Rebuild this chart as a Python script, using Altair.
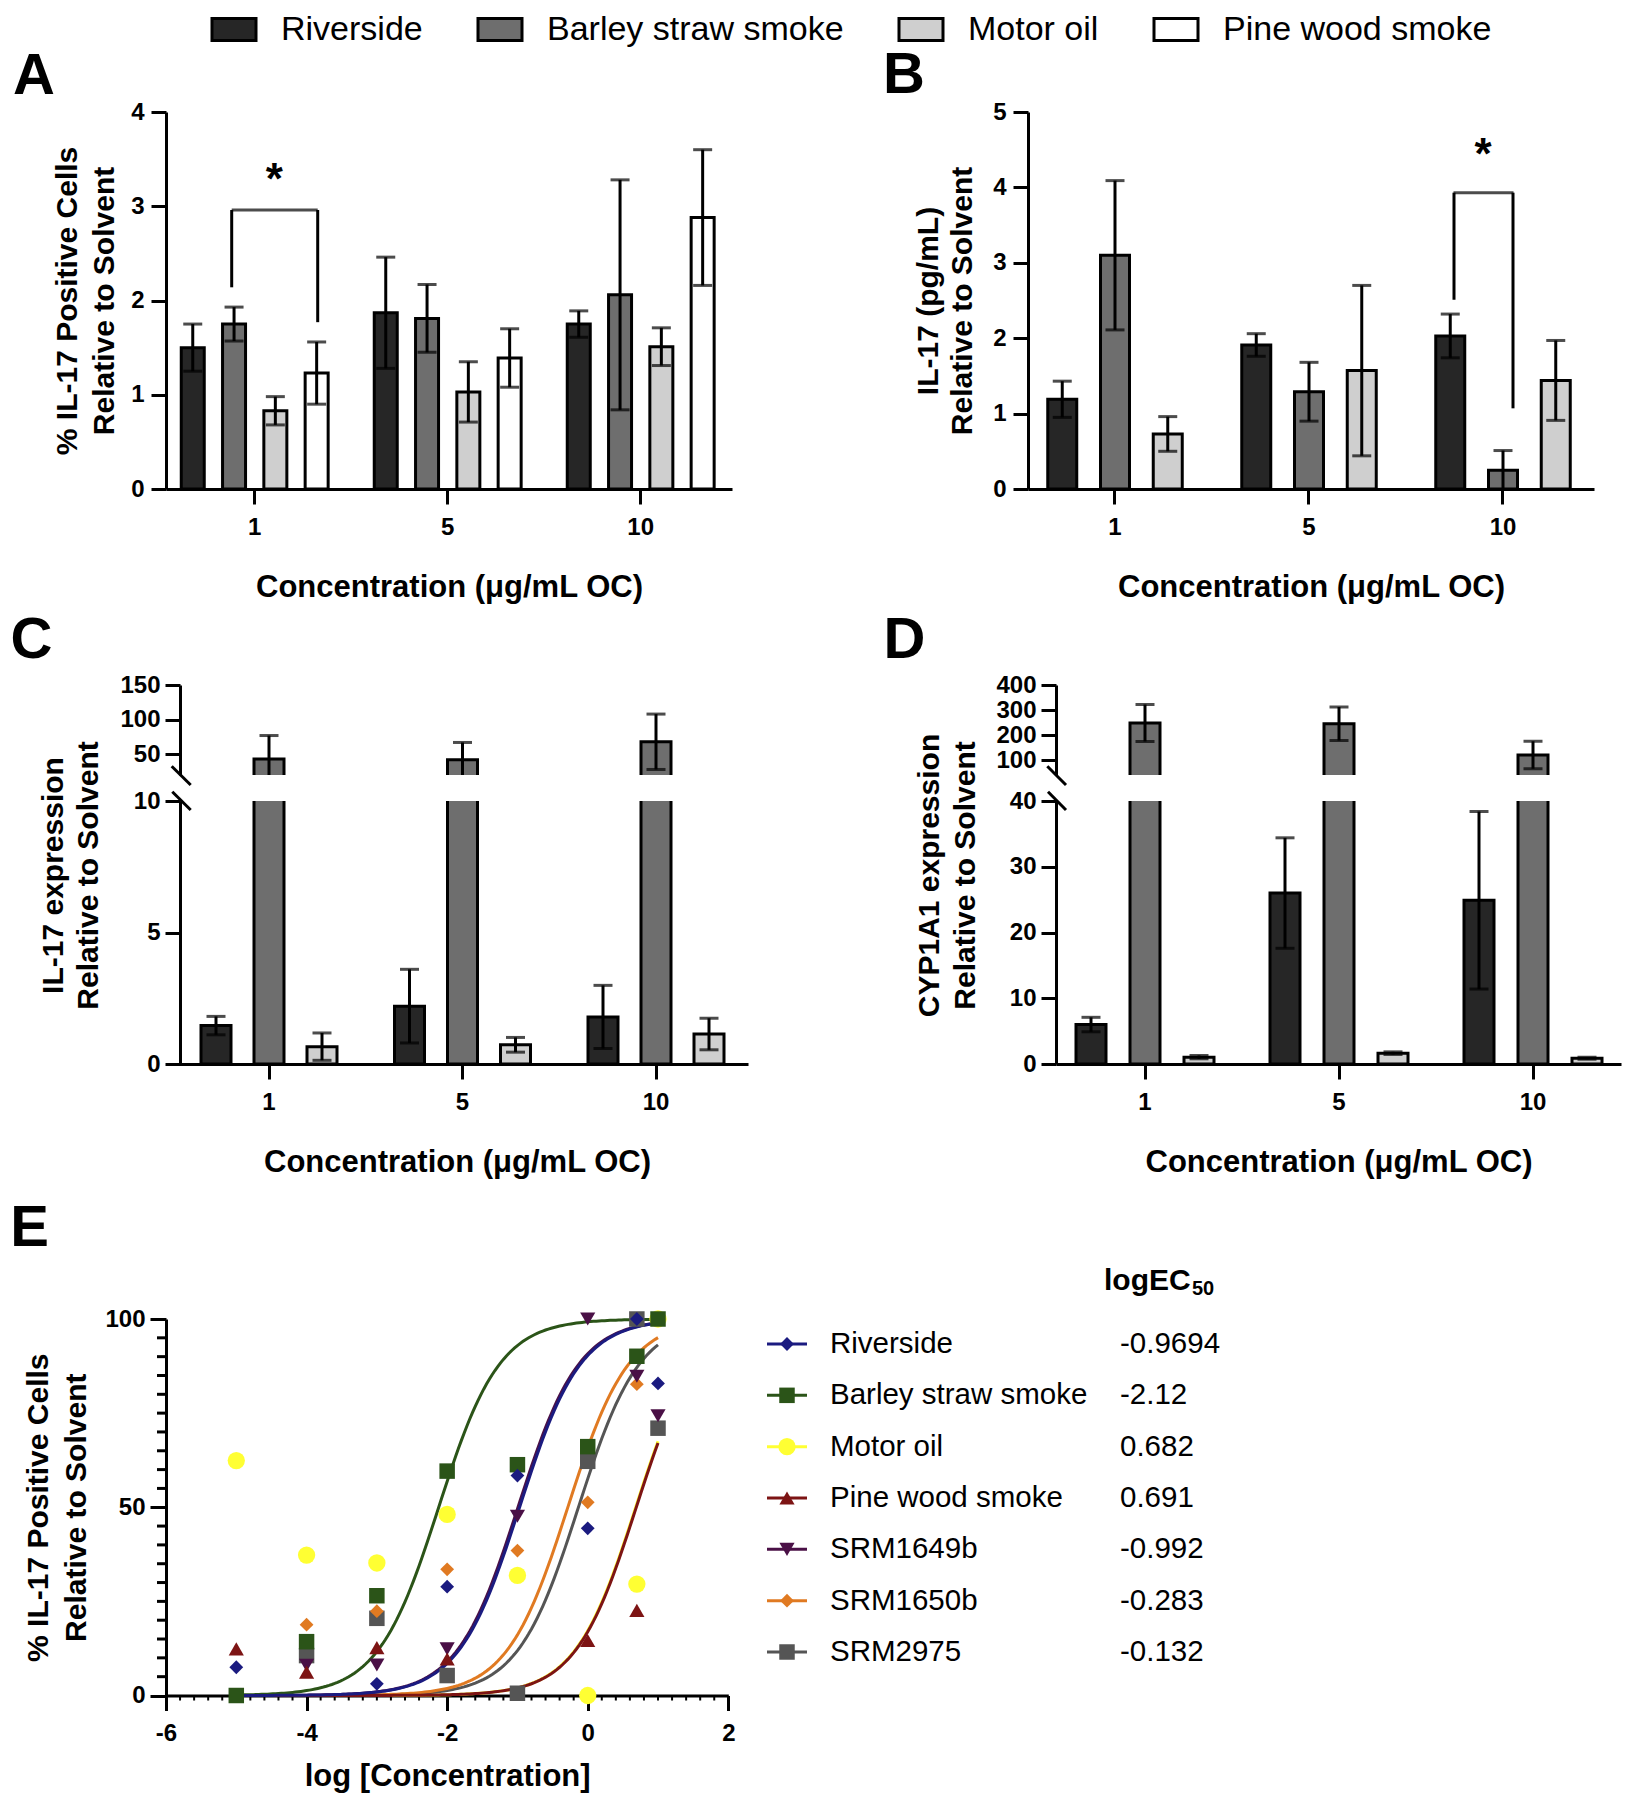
import altair as alt
import pandas as pd

FONT = "Liberation Sans"

# ---------------- data ----------------
conc = ["1", "5", "10"]
samples = ["Riverside", "Barley straw smoke", "Motor oil", "Pine wood smoke"]
bar_colors = ["#262626", "#6e6e6e", "#cfcfcf", "#ffffff"]

# Panel A: % IL-17 positive cells relative to solvent (mean, error)
a_mean = {"Riverside": [1.50, 1.87, 1.75], "Barley straw smoke": [1.75, 1.81, 2.06],
          "Motor oil": [0.83, 1.03, 1.51], "Pine wood smoke": [1.23, 1.39, 2.88]}
a_err = {"Riverside": [0.25, 0.59, 0.14], "Barley straw smoke": [0.18, 0.36, 1.22],
         "Motor oil": [0.15, 0.32, 0.20], "Pine wood smoke": [0.33, 0.31, 0.72]}
a_bracket = {"conc": "1", "top": 2.96, "lb": 2.14, "rb": 1.77, "star": 3.39}

# Panel B: IL-17 (pg/mL) relative to solvent
b_mean = {"Riverside": [1.19, 1.91, 2.03], "Barley straw smoke": [3.10, 1.29, 0.25],
          "Motor oil": [0.73, 1.57, 1.44]}
b_err = {"Riverside": [0.24, 0.15, 0.29], "Barley straw smoke": [0.99, 0.39, 0.26],
         "Motor oil": [0.23, 1.13, 0.53]}
b_bracket = {"conc": "10", "top": 3.93, "lb": 2.51, "rb": 1.07, "star": 4.58}

# Panel C: IL-17 expression relative to solvent
c_mean = {"Riverside": [1.46, 2.20, 1.79], "Barley straw smoke": [43.0, 42.0, 68.0],
          "Motor oil": [0.66, 0.73, 1.14]}
c_err = {"Riverside": [0.35, 1.40, 1.20], "Barley straw smoke": [34.0, 25.0, 40.0],
         "Motor oil": [0.52, 0.28, 0.60]}

# Panel D: CYP1A1 expression relative to solvent
d_mean = {"Riverside": [6.0, 26.0, 24.9], "Barley straw smoke": [248.0, 245.0, 120.0],
          "Motor oil": [1.04, 1.65, 0.88]}
d_err = {"Riverside": [1.1, 8.4, 13.5], "Barley straw smoke": [74.0, 67.0, 55.0],
         "Motor oil": [0.25, 0.20, 0.15]}

# Panel E: dose response
e_series = ["Riverside", "Barley straw smoke", "Motor oil", "Pine wood smoke",
            "SRM1649b", "SRM1650b", "SRM2975"]
e_colors = ["#1b1b80", "#2b5418", "#ffff33", "#7d1414", "#4a1046", "#e07a22", "#555555"]
e_shapes = ["diamond", "square", "circle", "triangle-up", "triangle-down", "diamond", "square"]
e_sizes = [190, 240, 300, 230, 230, 190, 240]
log_ec50 = [-0.9694, -2.12, 0.682, 0.691, -0.992, -0.283, -0.132]
log_conc = [-5, -4, -3, -2, -1, 0, 0.699, 1]
e_resp = {
    "Riverside":          [7.5, None, 3.1, 28.9, 58.4, 44.4, 100.0, 82.9],
    "Barley straw smoke": [0.0, 14.3, 26.5, 59.6, 61.3, 66.1, 90.1, 100.0],
    "Motor oil":          [62.4, 37.3, 35.2, 48.1, 31.9, 0.0, 29.6, 100.0],
    "Pine wood smoke":    [12.4, 6.2, 12.7, 9.7, None, 14.6, 22.6, None],
    "SRM1649b":           [None, 8.0, 8.1, 12.4, 47.6, 100.0, 84.8, 74.3],
    "SRM1650b":           [None, 18.8, 22.4, 33.5, 38.5, 51.3, 82.7, None],
    "SRM2975":            [None, 10.6, 20.5, 5.3, 0.6, 62.2, 100.0, 71.0],
}
# drawing order of the fitted curves (first drawn = bottom)
curve_order = ["Motor oil", "SRM2975", "SRM1650b", "SRM1649b", "Pine wood smoke",
               "Barley straw smoke", "Riverside"]
e_header = ["logEC", "50"]

# ---------------- layout / style constants ----------------
GEOM = {
    "A": dict(W=566, c1=88.7, step=193.0, sub_step=41.3, rect=23.0),
    "B": dict(W=566, c1=87.0, step=194.0, sub_step=52.75, rect=29.0),
    "C": dict(W=582, c1=103.0, step=193.5, sub_step=53.0, rect=30.0),
    "D": dict(W=565, c1=89.0, step=194.0, sub_step=54.0, rect=30.0),
}
XTITLE = "Concentration (\u03bcg/mL OC)"


def records(mean, err):
    rows = []
    for s, vals in mean.items():
        for i, c in enumerate(conc):
            rows.append({"conc": c, "sample": s, "mean": vals[i], "err": err[s][i]})
    return pd.DataFrame(rows)


def band_scales(g, subs):
    n = len(subs)
    pi2 = 1 - g["rect"] / g["sub_step"]
    bw = g["sub_step"] * (n - pi2)
    pi = 1 - bw / g["step"]
    po = (g["W"] / g["step"] - 3 + pi) / 2
    align = (g["c1"] - bw / 2) / (g["W"] - g["step"] * (3 - pi))
    xs = alt.Scale(domain=conc, paddingInner=pi, paddingOuter=po, align=align, round=False)
    xo = alt.Scale(domain=subs, paddingInner=pi2, paddingOuter=0, round=False)
    return xs, xo


top_legend = alt.Legend(
    orient="none", legendX=51, legendY=-99.5, direction="horizontal", columns=4,
    symbolType="M-2,-1H2V1H-2Z", symbolSize=484, symbolStrokeColor="black",
    symbolStrokeWidth=3, symbolOpacity=1, labelFontSize=34, labelFont=FONT,
    labelColor="black", labelOffset=30, columnPadding=49, padding=0, labelLimit=600,
)


def bar_chart(df, subs, g, ydom, yvals, height, yaxis, xaxis, title=None,
              legend=None, err_filter=None, bracket=None, bpx=None, slashes=None):
    xs, xo = band_scales(g, subs)
    X = alt.X("conc:N", scale=xs, axis=xaxis, sort=conc)
    XO = alt.XOffset("sample:N", scale=xo, sort=subs)
    ysc = alt.Scale(domain=ydom, nice=False, zero=False)
    color = alt.Color("sample:N", scale=alt.Scale(domain=samples, range=bar_colors),
                      legend=legend, title=None)
    base = alt.Chart(df)
    bars = base.mark_bar(stroke="black", strokeWidth=3, clip=True).encode(
        x=X, xOffset=XO, y=alt.Y("mean:Q", scale=ysc, axis=yaxis), y2=alt.datum(0), color=color)
    eb = base
    if err_filter:
        eb = eb.transform_filter(err_filter)
    eb = eb.transform_calculate(lo="datum.mean - datum.err", hi="datum.mean + datum.err")
    rule = eb.mark_rule(color="black", strokeWidth=3, clip=True).encode(
        x=X, xOffset=XO, y=alt.Y("lo:Q", scale=ysc, axis=yaxis), y2="hi:Q")
    caps = [eb.mark_tick(color="black", size=19, thickness=3, clip=True).encode(
        x=X, xOffset=XO, y=alt.Y(f, scale=ysc, axis=yaxis)) for f in ("lo:Q", "hi:Q")]
    layers = [bars, rule] + caps
    if bracket is not None:
        bd = alt.Chart(pd.DataFrame([bracket]))
        layers += [
            bd.mark_rule(color="black", strokeWidth=3, xOffset=bpx["left"]).encode(
                x=X, y=alt.Y("lb:Q", scale=ysc, axis=yaxis), y2="top:Q"),
            bd.mark_rule(color="black", strokeWidth=3, xOffset=bpx["right"]).encode(
                x=X, y=alt.Y("rb:Q", scale=ysc, axis=yaxis), y2="top:Q"),
            bd.mark_tick(color="black", size=bpx["len"], thickness=3, xOffset=bpx["mid"]).encode(
                x=X, y=alt.Y("top:Q", scale=ysc, axis=yaxis)),
            bd.mark_text(text="*", font=FONT, fontSize=44, fontWeight="bold", color="black",
                         align="center", baseline="alphabetic", dx=bpx["star"], dy=25).encode(
                x=X, y=alt.Y("star:Q", scale=ysc, axis=yaxis)),
        ]
    if slashes is not None:
        sd = alt.Chart(pd.DataFrame([{"k": 1}]))
        layers.append(sd.mark_rule(color="black", strokeWidth=3).encode(
            x=alt.value(slashes[0]), x2=alt.value(slashes[1]),
            y=alt.value(slashes[2]), y2=alt.value(slashes[3])))
    ch = alt.layer(*layers).properties(width=g["W"], height=height)
    if title is not None:
        ch = ch.properties(title=title)
    return ch


def letter(t, dx, offset):
    return alt.TitleParams(text=t, anchor="start", frame="group", dx=dx, offset=offset,
                           fontSize=58, fontWeight="bold", font=FONT, color="black")


def yaxis(vals, title=None, pad=7, tpad=12, lh=36, offset=0, min_ext=None, title_y=None, tick=15):
    kw = dict(values=vals, tickSize=tick, labelPadding=pad, offset=offset, titleLimit=1000)
    if title is not None:
        kw.update(title=title, titlePadding=tpad, titleLineHeight=lh)
    else:
        kw.update(title="")
    if min_ext is not None:
        kw.update(minExtent=min_ext, maxExtent=min_ext)
    if title_y is not None:
        kw.update(titleY=title_y)
    return alt.Axis(**kw)


xaxis_bars = alt.Axis(title=XTITLE, tickSize=15, labelPadding=11, titlePadding=33, labelAngle=0)
sub3 = samples[:3]

# ---- Panel A ----
A = bar_chart(records(a_mean, a_err), samples, GEOM["A"], [0, 4], [0, 1, 2, 3, 4], 377,
              yaxis([0, 1, 2, 3, 4], ["% IL-17 Positive Cells", "Relative to Solvent"], pad=7, tpad=11.5, lh=37),
              xaxis_bars, title=letter("A", -153, -5.7), legend=top_legend,
              bracket=a_bracket, bpx={"left": -23, "right": 63, "mid": 20, "len": 86, "star": 19.5})
# ---- Panel B ----
B = bar_chart(records(b_mean, b_err), sub3, GEOM["B"], [0, 5], [0, 1, 2, 3, 4, 5], 377,
              yaxis([0, 1, 2, 3, 4, 5], ["IL-17 (pg/mL)", "Relative to Solvent"], pad=7, tpad=15, lh=34),
              xaxis_bars, title=letter("B", -145, -5.2), legend=top_legend,
              bracket=b_bracket, bpx={"left": -49, "right": 10, "mid": -19.5, "len": 60, "star": -20})

# ---- Panel C (broken axis) ----
C_up = bar_chart(records(c_mean, c_err), sub3, GEOM["C"], [20, 150], [50, 100, 150], 90,
                 yaxis([50, 100, 150], None, pad=5, offset=-14), None,
                 title=letter("C", -155.6, 2.8), err_filter="datum.mean >= 10",
                 slashes=[5.7, 24.7, 81.3, 100])
C_low = bar_chart(records(c_mean, c_err), sub3, GEOM["C"], [0, 10], [0, 5, 10], 263,
                  yaxis([0, 5, 10], ["IL-17 expression", "Relative to Solvent"], pad=5, tpad=17, lh=35,
                        offset=-14, min_ext=60, title_y=74), xaxis_bars,
                  err_filter="datum.mean < 10", slashes=[6.3, 24.7, -9.3, 9])
# ---- Panel D (broken axis) ----
D_up = bar_chart(records(d_mean, d_err), sub3, GEOM["D"], [40, 400], [100, 200, 300, 400], 90,
                 yaxis([100, 200, 300, 400], None, pad=5), None,
                 title=letter("D", -172.6, 2.8), err_filter="datum.mean >= 40",
                 slashes=[-8.7, 10, 81.3, 100])
D_low = bar_chart(records(d_mean, d_err), sub3, GEOM["D"], [0, 40], [0, 10, 20, 30, 40], 263,
                  yaxis([0, 10, 20, 30, 40], ["CYP1A1 expression", "Relative to Solvent"], pad=5, tpad=16,
                        lh=36, min_ext=60, title_y=74), xaxis_bars,
                  err_filter="datum.mean < 40", slashes=[-8, 10, -9.3, 9])

# ---- Panel E ----
E_W, E_H = 562.3, 376.5
ex_sc = alt.Scale(domain=[-6, 2], nice=False, zero=False)
ey_sc = alt.Scale(domain=[0, 100], nice=False, zero=False)
ex_ax = alt.Axis(values=[-6, -4, -2, 0, 2], title="log [Concentration]", labelExpr="datum.value + ''",
                 tickSize=15, labelPadding=11, titlePadding=16)
ey_ax = alt.Axis(values=[0, 50, 100], title=["% IL-17 Positive Cells", "Relative to Solvent"],
                 tickSize=16, labelPadding=5, titlePadding=13, titleLineHeight=38, titleLimit=1000)
e_color = alt.Color("series:N", scale=alt.Scale(domain=e_series, range=e_colors), legend=None)
e_shape = alt.Shape("series:N", scale=alt.Scale(domain=e_series, range=e_shapes), legend=None)
e_size = alt.Size("series:N", scale=alt.Scale(type="ordinal", domain=e_series, range=e_sizes),
                  legend=None)

pts = []
for s in reversed(e_series):
    for i, xv in enumerate(log_conc):
        v = e_resp[s][i]
        if v is not None:
            pts.append({"series": s, "x": xv, "y": v})
pts_df = pd.DataFrame(pts)
curve_df = pd.DataFrame({"series": curve_order,
                         "ec50": [log_ec50[e_series.index(s)] for s in curve_order]})

e_minor_y = [v for v in range(5, 100, 5) if v % 50]
e_minor_x = [round(-6 + 0.2 * i, 1) for i in range(1, 40) if i % 10]

minor_y = alt.Chart(pd.DataFrame({"v": e_minor_y})).mark_rule(color="black", strokeWidth=3).encode(
    y=alt.Y("v:Q", scale=ey_sc, axis=ey_ax), x=alt.value(-9), x2=alt.value(0))
minor_x = alt.Chart(pd.DataFrame({"v": e_minor_x})).mark_rule(color="black", strokeWidth=2).encode(
    x=alt.X("v:Q", scale=ex_sc, axis=ex_ax), y=alt.value(E_H), y2=alt.value(E_H + 5))
curves = (alt.Chart(curve_df)
          .transform_calculate(x="sequence(-5, 1.0001, 0.04)")
          .transform_flatten(["x"])
          .transform_calculate(y="100 / (1 + pow(10, datum.ec50 - datum.x))")
          .mark_line(strokeWidth=3)
          .encode(x=alt.X("x:Q", scale=ex_sc, axis=ex_ax), y=alt.Y("y:Q", scale=ey_sc, axis=ey_ax),
                  color=e_color))
points = alt.Chart(pts_df).mark_point(filled=True, opacity=1, strokeWidth=0).encode(
    x=alt.X("x:Q", scale=ex_sc, axis=ex_ax), y=alt.Y("y:Q", scale=ey_sc, axis=ey_ax),
    color=e_color, shape=e_shape, size=e_size)
E = alt.layer(minor_y, minor_x, curves, points).properties(
    width=E_W, height=E_H, title=letter("E", -155.7, 48.8))

# ---- Panel E legend with logEC50 ----
leg_df = pd.DataFrame({"series": e_series, "value": [str(v) for v in log_ec50]})
LY = alt.Y("series:N", scale=alt.Scale(type="point", domain=e_series, range=[25, 333], padding=0), axis=None)
lbase = alt.Chart(leg_df)
leg_rule = lbase.mark_rule(strokeWidth=3).encode(y=LY, x=alt.value(0), x2=alt.value(40), color=e_color)
leg_pt = lbase.mark_point(filled=True, opacity=1, strokeWidth=0).encode(
    y=LY, x=alt.value(20), color=e_color, shape=e_shape, size=e_size)
leg_lbl = lbase.mark_text(align="left", baseline="middle", font=FONT, fontSize=29.5, color="black").encode(
    y=LY, x=alt.value(63), text="series:N")
leg_val = lbase.mark_text(align="left", baseline="middle", font=FONT, fontSize=29.5, color="black").encode(
    y=LY, x=alt.value(353), text="value:N")
hdr = alt.Chart(pd.DataFrame({"t": [e_header[0]]})).mark_text(
    align="left", baseline="middle", font=FONT, fontSize=30, fontWeight="bold", color="black").encode(
    x=alt.value(337), y=alt.value(-38), text="t:N")
hdr_sub = alt.Chart(pd.DataFrame({"t": [e_header[1]]})).mark_text(
    align="left", baseline="middle", font=FONT, fontSize=20, fontWeight="bold", color="black").encode(
    x=alt.value(425), y=alt.value(-30), text="t:N")
E_leg = alt.layer(leg_rule, leg_pt, leg_lbl, leg_val, hdr, hdr_sub).properties(width=460, height=340)

# ---------------- composition ----------------
row1 = alt.hconcat(A, B, spacing=151).resolve_scale(xOffset="independent")
Ccol = alt.vconcat(C_up, C_low, spacing=-47).resolve_scale(xOffset="independent")
Dcol = alt.vconcat(D_up, D_low, spacing=-54).resolve_scale(xOffset="independent")
row2 = alt.hconcat(Ccol, Dcol, spacing=135).resolve_scale(xOffset="independent")
row3 = alt.hconcat(E, E_leg, spacing=30)
inner = alt.vconcat(row1, row2, spacing=10).resolve_scale(color="independent", xOffset="independent")
chart = (alt.vconcat(inner, row3, spacing=23)
         .resolve_scale(color="independent", shape="independent", size="independent", xOffset="independent")
         .properties(padding={"left": 2, "top": 4, "right": 5, "bottom": 5})
         .configure(font=FONT)
         .configure_view(stroke=None)
         .configure_axis(domainColor="black", domainWidth=3, tickColor="black", tickWidth=3,
                         labelColor="black", titleColor="black", labelFont=FONT, titleFont=FONT,
                         labelFontWeight="bold", titleFontWeight="bold", labelFontSize=24,
                         titleFontSize=30, grid=False, labelFlush=False, labelOverlap=False)
         .configure_axisX(titleFontSize=31, labelAngle=0))

chart.save("out.html", embed_options={"renderer": "svg", "actions": False})
